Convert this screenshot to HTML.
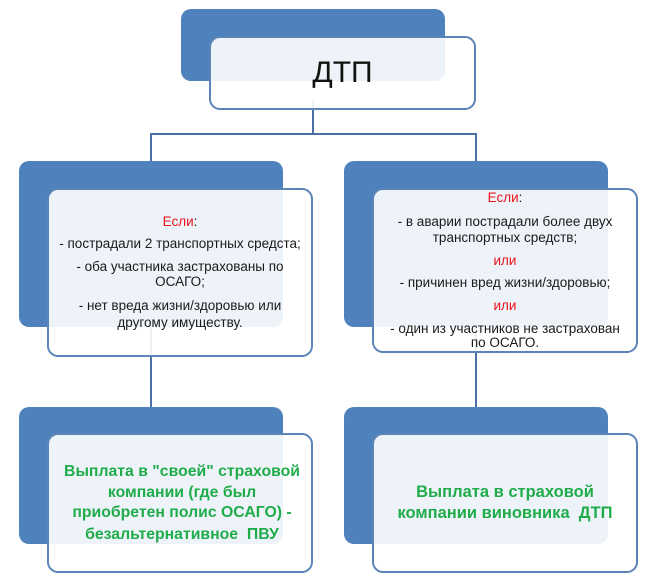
<!DOCTYPE html>
<html><head><meta charset="utf-8">
<style>
body{margin:0;background:#fff;}
#c{position:relative;width:657px;height:582px;overflow:hidden;font-family:"Liberation Sans","Noto Sans CJK SC",sans-serif;}
.b{position:absolute;background:#4f81bd;border-radius:10px;}
.w{position:absolute;background:rgba(255,255,255,0.9);border:2px solid #5b84b8;border-radius:11px;box-sizing:border-box;}
.ln{position:absolute;background:#4a6fa3;}
.t{position:absolute;text-align:center;white-space:nowrap;color:#1a1a1a;font-size:13.5px;line-height:16px;height:16px;}
.r{color:#e8141b;}
.g{position:absolute;text-align:center;white-space:nowrap;color:#1fac4a;font-weight:bold;font-size:15.8px;line-height:20px;height:20px;}
</style></head><body>
<div id="c">
<!-- connectors -->
<div class="ln" style="left:312px;top:100px;width:2px;height:35px;"></div>
<div class="ln" style="left:150px;top:133px;width:327px;height:2px;"></div>
<div class="ln" style="left:150px;top:133px;width:2px;height:280px;"></div>
<div class="ln" style="left:475px;top:133px;width:2px;height:280px;"></div>

<!-- top -->
<div class="b" style="left:181px;top:9px;width:264px;height:72px;"></div>
<div class="w" style="left:209px;top:36px;width:267px;height:74px;"></div>
<div class="t" style="left:209px;width:267px;top:53px;height:40px;line-height:40px;font-size:30px;color:#111;">ДТП</div>

<!-- left middle -->
<div class="b" style="left:19px;top:161px;width:264px;height:166px;"></div>
<div class="w" style="left:47px;top:188px;width:266px;height:169px;"></div>
<div class="t" style="left:47px;width:266px;top:214px;"><span class="r">Если</span>:</div>
<div class="t" style="left:47px;width:266px;top:236px;">- пострадали 2 транспортных средста;</div>
<div class="t" style="left:47px;width:266px;top:259px;">- оба участника застрахованы по</div>
<div class="t" style="left:47px;width:266px;top:274px;">ОСАГО;</div>
<div class="t" style="left:47px;width:266px;top:298px;">- нет вреда жизни/здоровью или</div>
<div class="t" style="left:47px;width:266px;top:315px;">другому имуществу.</div>

<!-- right middle -->
<div class="b" style="left:344px;top:161px;width:264px;height:166px;"></div>
<div class="w" style="left:372px;top:188px;width:266px;height:165px;"></div>
<div class="t" style="left:372px;width:266px;top:190px;"><span class="r">Если</span>:</div>
<div class="t" style="left:372px;width:266px;top:214px;">- в аварии пострадали более двух</div>
<div class="t" style="left:372px;width:266px;top:230px;">транспортных средств;</div>
<div class="t r" style="left:372px;width:266px;top:253px;">или</div>
<div class="t" style="left:372px;width:266px;top:275px;">- причинен вред жизни/здоровью;</div>
<div class="t r" style="left:372px;width:266px;top:298px;">или</div>
<div class="t" style="left:372px;width:266px;top:321px;">- один из участников не застрахован</div>
<div class="t" style="left:372px;width:266px;top:335px;">по ОСАГО.</div>

<!-- bottom left -->
<div class="b" style="left:19px;top:407px;width:264px;height:137px;"></div>
<div class="w" style="left:47px;top:433px;width:266px;height:140px;"></div>
<div class="g" style="left:47px;width:270px;top:462px;">Выплата в "своей" страховой</div>
<div class="g" style="left:47px;width:270px;top:483px;">компании (где был</div>
<div class="g" style="left:47px;width:270px;top:503px;">приобретен полис ОСАГО) -</div>
<div class="g" style="left:47px;width:270px;top:525px;">безальтернативное &nbsp;ПВУ</div>

<!-- bottom right -->
<div class="b" style="left:344px;top:407px;width:264px;height:137px;"></div>
<div class="w" style="left:372px;top:433px;width:266px;height:140px;"></div>
<div class="g" style="left:372px;width:266px;top:482px;font-size:16.5px;">Выплата в страховой</div>
<div class="g" style="left:372px;width:266px;top:503px;font-size:16.5px;">компании виновника &nbsp;ДТП</div>
</div>
</body></html>
